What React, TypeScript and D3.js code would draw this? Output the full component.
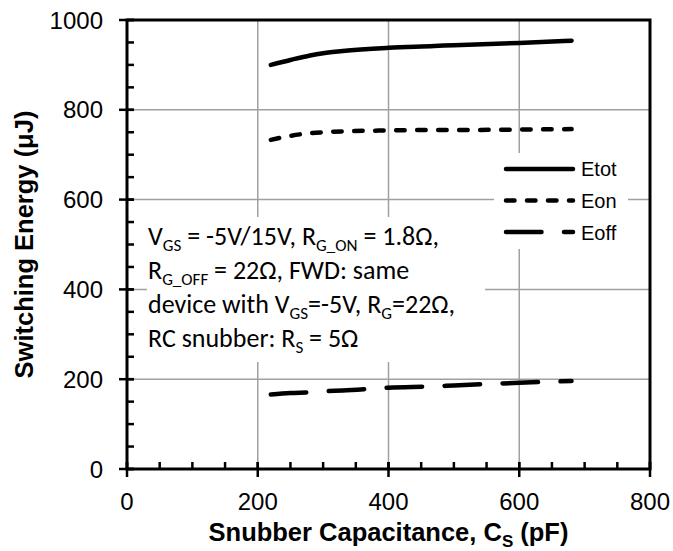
import React from "react";
import * as d3 from "d3";

const capacitance = [220, 250, 280, 300, 330, 400, 470, 500, 600, 680];
const etot = [900, 911, 921, 926, 931, 938, 942, 944, 949, 954];
const eon = [733, 742, 748, 750, 752, 754, 755, 755, 756, 757];
const eoff = [166, 169, 171, 173, 175, 181, 184, 186, 192, 196];
const xTicks = [0, 200, 400, 600, 800];
const yTicks = [0, 200, 400, 600, 800, 1000];
const seriesNames = ["Etot", "Eon", "Eoff"];

const W = 673;
const H = 551;
const M = { left: 127, right: 650, top: 20, bottom: 469 };

export default function App() {
  const x = d3.scaleLinear().domain([0, 800]).range([M.left, M.right]);
  const y = d3.scaleLinear().domain([0, 1000]).range([M.bottom, M.top]);
  const xMinor = d3.range(0, 801, 50);
  const yMinor = d3.range(0, 1001, 50);
  const line = d3
    .line<number>()
    .x((_, i) => x(capacitance[i]))
    .y((d) => y(d))
    .curve(d3.curveMonotoneX);
  const dashes = [undefined, "8.5 12.5", "35.5 22.5"];
  const series = [etot, eon, eoff];
  const sans = "'Liberation Sans', Arial, sans-serif";
  const cal = "Carlito, 'Noto Sans', sans-serif";
  const sub = { fontSize: 17 };
  const grid = "#a0a0a0";

  return (
    <svg width={W} height={H} style={{ position: "absolute", left: 0, top: 0, background: "#fff" }}>
      <rect x={0} y={0} width={W} height={H} fill="#fff" />
      {/* gridlines */}
      {xTicks.filter((t) => t > 0 && t < 800).map((t) => (
        <line key={"gx" + t} x1={x(t)} x2={x(t)} y1={M.top} y2={M.bottom} stroke={grid} strokeWidth={1.5} />
      ))}
      {yTicks.filter((t) => t > 0 && t < 1000).map((t) => (
        <line key={"gy" + t} x1={M.left} x2={M.right} y1={y(t)} y2={y(t)} stroke={grid} strokeWidth={1.5} />
      ))}
      {/* annotation box */}
      <rect x={147} y={217} width={338} height={145} fill="#fff" />
      {/* legend box */}
      <rect x={494} y={153} width={134} height={96} fill="#fff" />
      {/* series */}
      {series.map((s, i) => (
        <path
          key={"s" + i}
          d={line(s) || ""}
          fill="none"
          stroke="#000"
          strokeWidth={4.5}
          strokeLinecap="round"
          strokeDasharray={dashes[i]}
        />
      ))}
      {/* frame */}
      <rect x={M.left} y={M.top} width={M.right - M.left} height={M.bottom - M.top} fill="none" stroke="#000" strokeWidth={3} />
      {/* minor ticks */}
      {yMinor.map((t) => (
        <line key={"ym" + t} x1={M.left} x2={M.left + 7} y1={y(t)} y2={y(t)} stroke="#000" strokeWidth={2.5} />
      ))}
      {xMinor.map((t) => (
        <line key={"xm" + t} x1={x(t)} x2={x(t)} y1={M.bottom} y2={M.bottom - 7} stroke="#000" strokeWidth={2.5} />
      ))}
      {/* major ticks */}
      {yTicks.map((t) => (
        <line key={"yM" + t} x1={M.left - 8} x2={M.left + 7} y1={y(t)} y2={y(t)} stroke="#000" strokeWidth={2.5} />
      ))}
      {xTicks.map((t) => (
        <line key={"xM" + t} x1={x(t)} x2={x(t)} y1={M.bottom - 7} y2={M.bottom + 8} stroke="#000" strokeWidth={2.5} />
      ))}
      {/* tick labels */}
      {yTicks.map((t) => (
        <text key={"yl" + t} x={103} y={y(t) + 8.5} textAnchor="end" fontFamily={sans} fontSize={24} fill="#000">
          {t}
        </text>
      ))}
      {xTicks.map((t) => (
        <text key={"xl" + t} x={x(t)} y={510} textAnchor="middle" fontFamily={sans} fontSize={24} fill="#000">
          {t}
        </text>
      ))}
      {/* axis titles */}
      <text x={(M.left + M.right) / 2} y={541} textAnchor="middle" fontFamily={sans} fontSize={25.5} fontWeight="bold">
        Snubber Capacitance, C<tspan dy={6} style={{ fontSize: 17 }}>S</tspan>
        <tspan dy={-6}> (pF)</tspan>
      </text>
      <text
        transform={`translate(33,${(M.top + M.bottom) / 2}) rotate(-90)`}
        textAnchor="middle"
        fontFamily={sans}
        fontSize={25.5}
        fontWeight="bold"
      >
        Switching Energy (μJ)
      </text>
      {/* legend */}
      {seriesNames.map((n, i) => (
        <g key={"lg" + n}>
          <line
            x1={506}
            x2={573}
            y1={169 + i * 31.5}
            y2={169 + i * 31.5}
            stroke="#000"
            strokeWidth={4.5}
            strokeLinecap="round"
            strokeDasharray={dashes[i]}
          />
          <text x={581} y={176 + i * 32} fontFamily={sans} fontSize={20} fill="#000">
            {n}
          </text>
        </g>
      ))}
      {/* annotation */}
      <g fontFamily={cal} fontSize={26} fill="#000">
        <text x={148} y={245}>
          V<tspan dy={6} style={sub}>GS</tspan>
          <tspan dy={-6}> = -5V/15V, R</tspan>
          <tspan dy={6} style={sub}>G_ON</tspan>
          <tspan dy={-6}> = 1.8Ω,</tspan>
        </text>
        <text x={148} y={279}>
          R<tspan dy={6} style={sub}>G_OFF</tspan>
          <tspan dy={-6}> = 22Ω, FWD: same</tspan>
        </text>
        <text x={148} y={313}>
          device with V<tspan dy={6} style={sub}>GS</tspan>
          <tspan dy={-6}>=-5V, R</tspan>
          <tspan dy={6} style={sub}>G</tspan>
          <tspan dy={-6}>=22Ω,</tspan>
        </text>
        <text x={148} y={347}>
          RC snubber: R<tspan dy={6} style={sub}>S</tspan>
          <tspan dy={-6}> = 5Ω</tspan>
        </text>
      </g>
    </svg>
  );
}
